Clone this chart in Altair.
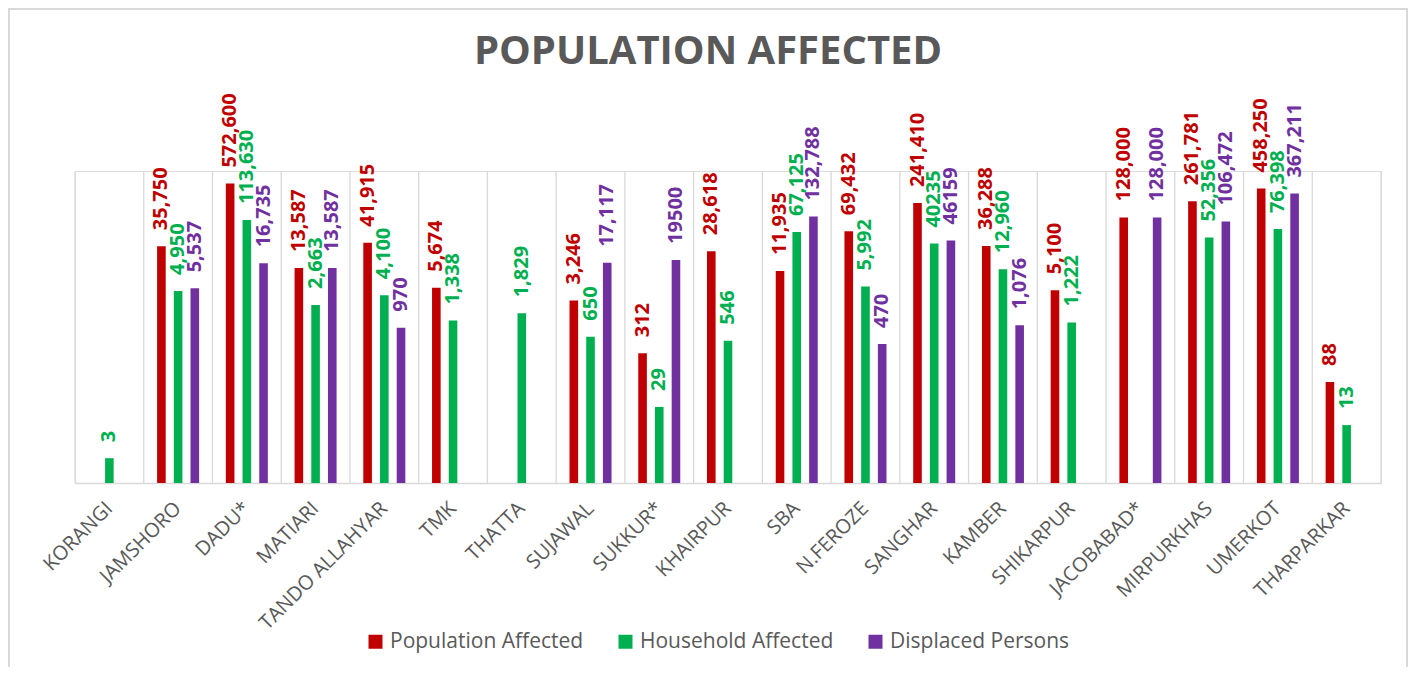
import altair as alt
import pandas as pd

districts = ["KORANGI", "JAMSHORO", "DADU*", "MATIARI", "TANDO ALLAHYAR", "TMK", "THATTA",
             "SUJAWAL", "SUKKUR*", "KHAIRPUR", "SBA", "N.FEROZE", "SANGHAR", "KAMBER",
             "SHIKARPUR", "JACOBABAD*", "MIRPURKHAS", "UMERKOT", "THARPARKAR"]

series = ["Population Affected", "Household Affected", "Displaced Persons"]
colors = ["#C00000", "#00B050", "#7030A0"]

population = [None, 35750, 572600, 13587, 41915, 5674, None, 3246, 312, 28618, 11935, 69432,
              241410, 36288, 5100, 128000, 261781, 458250, 88]
household = [3, 4950, 113630, 2663, 4100, 1338, 1829, 650, 29, 546, 67125, 5992,
             40235, 12960, 1222, None, 52356, 76398, 13]
displaced = [None, 5537, 16735, 13587, 970, None, None, 17117, 19500, None, 132788, 470,
             46159, 1076, None, 128000, 106472, 367211, None]

pop_labels = ["", "35,750", "572,600", "13,587", "41,915", "5,674", "", "3,246", "312", "28,618",
              "11,935", "69,432", "241,410", "36,288", "5,100", "128,000", "261,781", "458,250", "88"]
hh_labels = ["3", "4,950", "113,630", "2,663", "4,100", "1,338", "1,829", "650", "29", "546",
             "67,125", "5,992", "40235", "12,960", "1,222", "", "52,356", "76,398", "13"]
disp_labels = ["", "5,537", "16,735", "13,587", "970", "", "", "17,117", "19500", "",
               "132,788", "470", "46159", "1,076", "", "128,000", "106,472", "367,211", ""]

rows = []
for s, vals, labs in zip(series, [population, household, displaced], [pop_labels, hh_labels, disp_labels]):
    for d, v, l in zip(districts, vals, labs):
        if v is not None:
            rows.append({"district": d, "series": s, "value": v, "label": l})
df = pd.DataFrame(rows)

W, H = 1306, 312
GRAY = "#595959"
GRID = "#D9D9D9"

xenc = alt.X("district:N", sort=districts, title=None,
             scale=alt.Scale(domain=districts, paddingInner=0, paddingOuter=0),
             axis=alt.Axis(labelAngle=-45, labelFontSize=20, labelColor=GRAY, labelFont="Open Sans",
                           labelPadding=22, labelLimit=400, ticks=False, domainColor=GRID,
                           domainWidth=1.5, grid=False))
xoff = alt.XOffset("series:N", sort=series,
                   scale=alt.Scale(domain=series, paddingInner=0.485, paddingOuter=0.8))
yenc = alt.Y("value:Q", scale=alt.Scale(type="log", domain=[1, 1000000], nice=False), axis=None)

bars = alt.Chart(df).mark_bar().encode(
    x=xenc, xOffset=xoff, y=yenc, y2=alt.datum(1),
    color=alt.Color("series:N", sort=series,
                    scale=alt.Scale(domain=series, range=colors),
                    legend=alt.Legend(title=None, orient="none", direction="horizontal",
                                      legendX=290, legendY=460, symbolType="square",
                                      symbolSize=196, symbolStrokeWidth=0, labelFontSize=21,
                                      labelColor=GRAY, labelFont="Open Sans", labelOffset=4,
                                      columnPadding=31, padding=0, labelLimit=400))
)

labels = alt.Chart(df).mark_text(angle=270, align="left", baseline="middle", dx=16,
                                 fontSize=20, fontWeight="bold", font="Open Sans").encode(
    x=xenc, xOffset=xoff, y=yenc, text="label:N",
    color=alt.Color("series:N", sort=series, scale=alt.Scale(domain=series, range=colors), legend=None)
)

grid_df = pd.DataFrame({"district": districts})
grid = alt.Chart(grid_df).mark_rule(color=GRID, strokeWidth=1.3).encode(
    x=alt.X("district:N", sort=districts, bandPosition=0, title=None),
    y=alt.value(0), y2=alt.value(H)
)
grid_end = alt.Chart(pd.DataFrame({"a": [0]})).mark_rule(color=GRID, strokeWidth=1.3).encode(
    x=alt.value(W), y=alt.value(0), y2=alt.value(H)
)

title = alt.Chart(pd.DataFrame({"t": ["POPULATION AFFECTED"]})).mark_text(
    fontSize=40, fontWeight="bold", font="Open Sans", color=GRAY,
    align="center", baseline="alphabetic"
).encode(x=alt.value(633), y=alt.value(-106.7), text="t:N")

border = alt.Chart(pd.DataFrame({"a": [0]})).mark_rect(
    fillOpacity=0, stroke=GRID, strokeWidth=2
).encode(x=alt.value(-66), x2=alt.value(W + 26), y=alt.value(-162), y2=alt.value(H + 200))

chart = alt.layer(border, grid, grid_end, bars, labels, title).properties(
    width=W, height=H, autosize="none",
    padding={"left": 67, "top": 163, "right": 27, "bottom": 184}
).configure_view(strokeWidth=0).configure(background="white")

chart.save("out.html", embed_options={"renderer": "svg", "actions": False})
